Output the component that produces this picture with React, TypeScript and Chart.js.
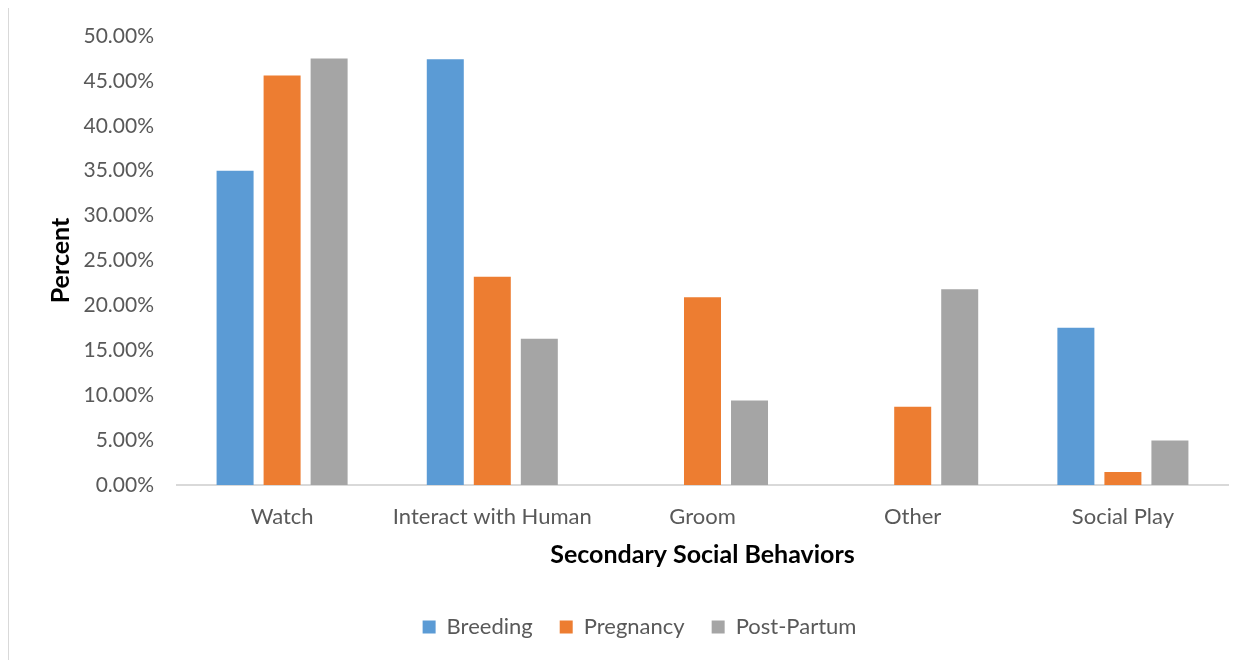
import React, { useEffect, useRef } from "react";
import { Chart, registerables } from "chart.js";

Chart.register(...registerables);

const categories = ["Watch", "Interact with Human", "Groom", "Other", "Social Play"];
const seriesNames = ["Breeding", "Pregnancy", "Post-Partum"];
const breeding = [35.0, 47.4, 0, 0, 17.5];
const pregnancy = [45.6, 23.2, 20.9, 8.7, 1.45];
const postPartum = [47.5, 16.3, 9.4, 21.8, 4.95];
const seriesColors = ["#5B9BD5", "#ED7D31", "#A5A5A5"];
const yMin = 0;
const yMax = 50;
const yStep = 5;

const FONT = "Lato, 'Open Sans', sans-serif";
const TEXT = "#595959";

export default function App() {
  const ref = useRef<HTMLCanvasElement | null>(null);

  useEffect(() => {
    if (!ref.current) return;
    const values = [breeding, pregnancy, postPartum];
    const chart = new Chart(ref.current, {
      type: "bar",
      data: {
        labels: categories,
        datasets: seriesNames.map((name, i) => ({
          label: name,
          data: values[i],
          backgroundColor: seriesColors[i],
          borderWidth: 0,
          categoryPercentage: 0.671,
          barPercentage: 0.787,
        })),
      },
      options: {
        responsive: false,
        animation: false,
        layout: { padding: { top: 28, right: 24, left: 42, bottom: 12 } },
        plugins: {
          legend: {
            position: "bottom",
            labels: {
              font: { family: FONT, size: 22 },
              color: TEXT,
              boxWidth: 13,
              boxHeight: 13,
              padding: 27,
            },
          },
          tooltip: { enabled: false },
        },
        scales: {
          x: {
            grid: { display: false, drawTicks: false },
            border: { display: true, color: "#D9D9D9", width: 2 },
            ticks: { font: { family: FONT, size: 22 }, color: TEXT, padding: 19 },
            title: {
              display: true,
              text: "Secondary Social Behaviors",
              font: { family: FONT, size: 25, weight: "bold" },
              color: "#000000",
              padding: { top: 0, bottom: 19 },
            },
            afterFit: (s: any) => {
              s.height = 104;
            },
          },
          y: {
            min: yMin,
            max: yMax,
            grid: { display: false, drawTicks: true, tickLength: 18 },
            border: { display: false },
            ticks: {
              stepSize: yStep,
              font: { family: FONT, size: 21 },
              color: TEXT,
              padding: 5,
              callback: (v: any) => Number(v).toFixed(2) + "%",
            },
            title: {
              display: true,
              text: "Percent",
              font: { family: FONT, size: 25, weight: "bold" },
              color: "#000000",
              padding: { top: -5, bottom: 0 },
            },
            afterFit: (s: any) => {
              s.width = 126;
            },
          },
        },
      },
    });
    return () => chart.destroy();
  }, []);

  return (
    <div
      style={{
        width: 1244,
        height: 653,
        marginTop: -1,
        borderTop: "1px solid #D9D9D9",
        borderLeft: "1px solid #D9D9D9",
        boxSizing: "border-box",
        background: "#fff",
      }}
    >
      <canvas ref={ref} width={1243} height={652} style={{ display: "block" }} />
    </div>
  );
}
